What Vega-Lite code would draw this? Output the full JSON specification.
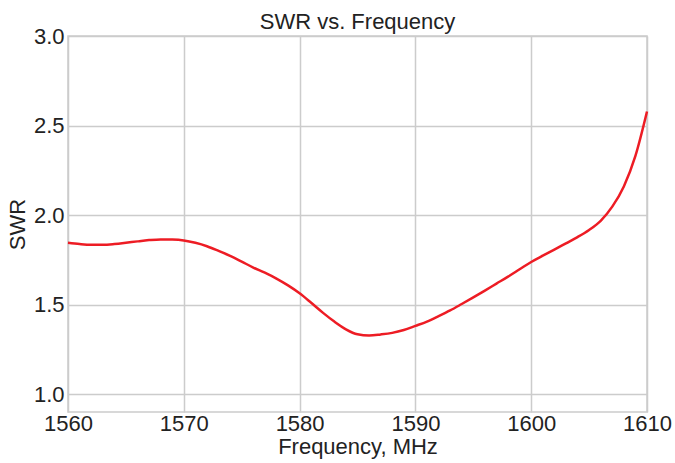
{
  "$schema": "https://vega.github.io/schema/vega-lite/v6.json",
  "width": 579,
  "height": 376,
  "autosize": "none",
  "padding": {"left": 68, "top": 36, "right": 28, "bottom": 51},
  "background": "white",
  "title": {"text": "SWR vs. Frequency", "fontSize": 22, "font": "Liberation Sans", "fontWeight": "normal", "color": "#222222", "offset": -9, "anchor": "middle"},
  "config": {
    "view": {"stroke": "#cccccc", "strokeWidth": 1.5},
    "axis": {
      "labelFont": "Liberation Sans",
      "labelFontSize": 22,
      "labelColor": "#222222",
      "titleFont": "Liberation Sans",
      "titleFontSize": 22,
      "titleFontWeight": "normal",
      "titleColor": "#222222",
      "domain": false,
      "ticks": false,
      "grid": true,
      "gridColor": "#cccccc",
      "gridWidth": 1.5
    }
  },
  "data": {
    "values": [
      {"f": 1560, "swr": 1.845},
      {"f": 1561, "swr": 1.838},
      {"f": 1562, "swr": 1.834},
      {"f": 1563, "swr": 1.834},
      {"f": 1564, "swr": 1.838},
      {"f": 1565, "swr": 1.845},
      {"f": 1566, "swr": 1.853},
      {"f": 1567, "swr": 1.860},
      {"f": 1568, "swr": 1.864},
      {"f": 1569, "swr": 1.863},
      {"f": 1570, "swr": 1.858},
      {"f": 1571, "swr": 1.845},
      {"f": 1572, "swr": 1.826},
      {"f": 1573, "swr": 1.800},
      {"f": 1574, "swr": 1.772},
      {"f": 1575, "swr": 1.740},
      {"f": 1576, "swr": 1.707},
      {"f": 1577, "swr": 1.678},
      {"f": 1578, "swr": 1.645},
      {"f": 1579, "swr": 1.607},
      {"f": 1580, "swr": 1.563},
      {"f": 1581, "swr": 1.510},
      {"f": 1582, "swr": 1.455},
      {"f": 1583, "swr": 1.405},
      {"f": 1584, "swr": 1.362},
      {"f": 1585, "swr": 1.334},
      {"f": 1586, "swr": 1.327},
      {"f": 1587, "swr": 1.333},
      {"f": 1588, "swr": 1.342},
      {"f": 1589, "swr": 1.358},
      {"f": 1590, "swr": 1.381},
      {"f": 1591, "swr": 1.405},
      {"f": 1592, "swr": 1.435},
      {"f": 1593, "swr": 1.467},
      {"f": 1594, "swr": 1.503},
      {"f": 1595, "swr": 1.540},
      {"f": 1596, "swr": 1.578},
      {"f": 1597, "swr": 1.617},
      {"f": 1598, "swr": 1.656},
      {"f": 1599, "swr": 1.697},
      {"f": 1600, "swr": 1.738},
      {"f": 1601, "swr": 1.773},
      {"f": 1602, "swr": 1.807},
      {"f": 1603, "swr": 1.842},
      {"f": 1604, "swr": 1.877},
      {"f": 1605, "swr": 1.917},
      {"f": 1606, "swr": 1.968},
      {"f": 1607, "swr": 2.047},
      {"f": 1608, "swr": 2.160},
      {"f": 1609, "swr": 2.330},
      {"f": 1610, "swr": 2.578}
    ]
  },
  "mark": {"type": "line", "color": "#ed1c24", "strokeWidth": 2.5, "interpolate": "monotone"},
  "encoding": {
    "x": {
      "field": "f",
      "type": "quantitative",
      "scale": {"domain": [1560, 1610], "nice": false, "zero": false},
      "axis": {"values": [1560, 1570, 1580, 1590, 1600, 1610], "format": "d", "labelPadding": 1, "title": "Frequency, MHz", "titlePadding": 2, "labelFlush": false}
    },
    "y": {
      "field": "swr",
      "type": "quantitative",
      "scale": {"domain": [0.9, 3.0], "nice": false, "zero": false},
      "axis": {"values": [1.0, 1.5, 2.0, 2.5, 3.0], "format": ".1f", "labelPadding": 4, "title": "SWR", "titlePadding": 4}
    }
  }
}
